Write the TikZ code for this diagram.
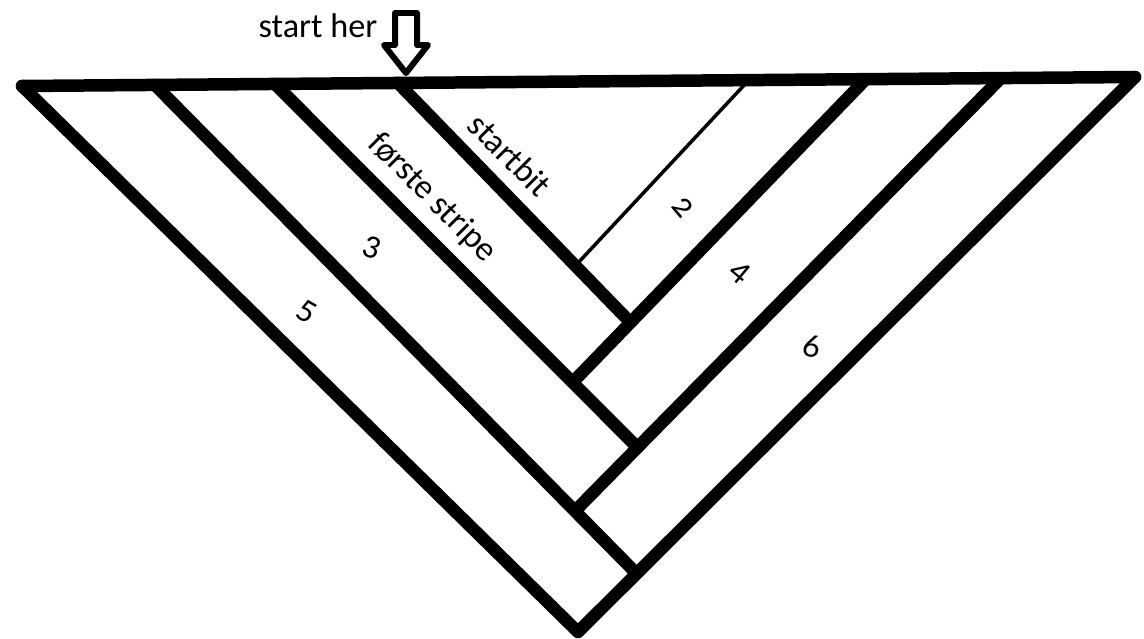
\documentclass[tikz,border=0pt]{standalone}
\usepackage{fontspec}
\setmainfont{Carlito}[Numbers=OldStyle]

\begin{document}
\begin{tikzpicture}[
    x=0.02cm,
    y=-0.02cm,
    edge/.style={
        line width=0.25cm,
        line cap=round,
        line join=round
    },
    seam/.style={
        line width=0.07cm,
        line cap=round
    },
    stripetext/.style={
        font=\fontsize{19.5}{21}\selectfont,
        inner sep=0pt,
        rotate=-45
    }
]

\useasboundingbox (0,0) rectangle (1144,639);

\coordinate (left) at (22,86);
\coordinate (right) at (1135,77);
\coordinate (apex) at (578,632);

\coordinate (topA) at (398,83);
\coordinate (topB) at (275,84);
\coordinate (topC) at (155,85);
\coordinate (topE) at (748,81);
\coordinate (topF) at (865,80);
\coordinate (topG) at (1000,79);

\coordinate (endA) at (630,322);
\coordinate (endB) at (635,445);
\coordinate (endC) at (636,573);
\coordinate (endE) at (577,264);
\coordinate (endF) at (573,382);
\coordinate (endG) at (576,510);

\draw[edge] (left) -- (right);
\draw[edge] (left) -- (apex) -- (right);

\draw[edge] (topA) -- (endA);
\draw[edge] (topB) -- (endB);
\draw[edge] (topC) -- (endC);
\draw[seam] (topE) -- (endE);
\draw[edge] (topF) -- (endF);
\draw[edge] (topG) -- (endG);

\draw[line width=0.12cm, line join=round]
    (395,13) -- (417,13) -- (417,45) -- (428,45) -- (406,73)
    -- (384,45) -- (395,45) -- cycle;

\node[stripetext, rotate=45] (starthere) at (318,26) {start her};

\node[stripetext] (startbit) at (510,155) {startbit};
\node[stripetext] (forste) at (432,198) {første stripe};

\node[stripetext, rotate=-5] (two) at (683,207) {2};
\node[stripetext, rotate=25] (three) at (372,248) {3};
\node[stripetext, rotate=5] (four) at (740,272) {4};
\node[stripetext, rotate=15] (five) at (307,312) {5};
\node[stripetext, rotate=35] (six) at (812,346) {6};

\end{tikzpicture}
\end{document}
